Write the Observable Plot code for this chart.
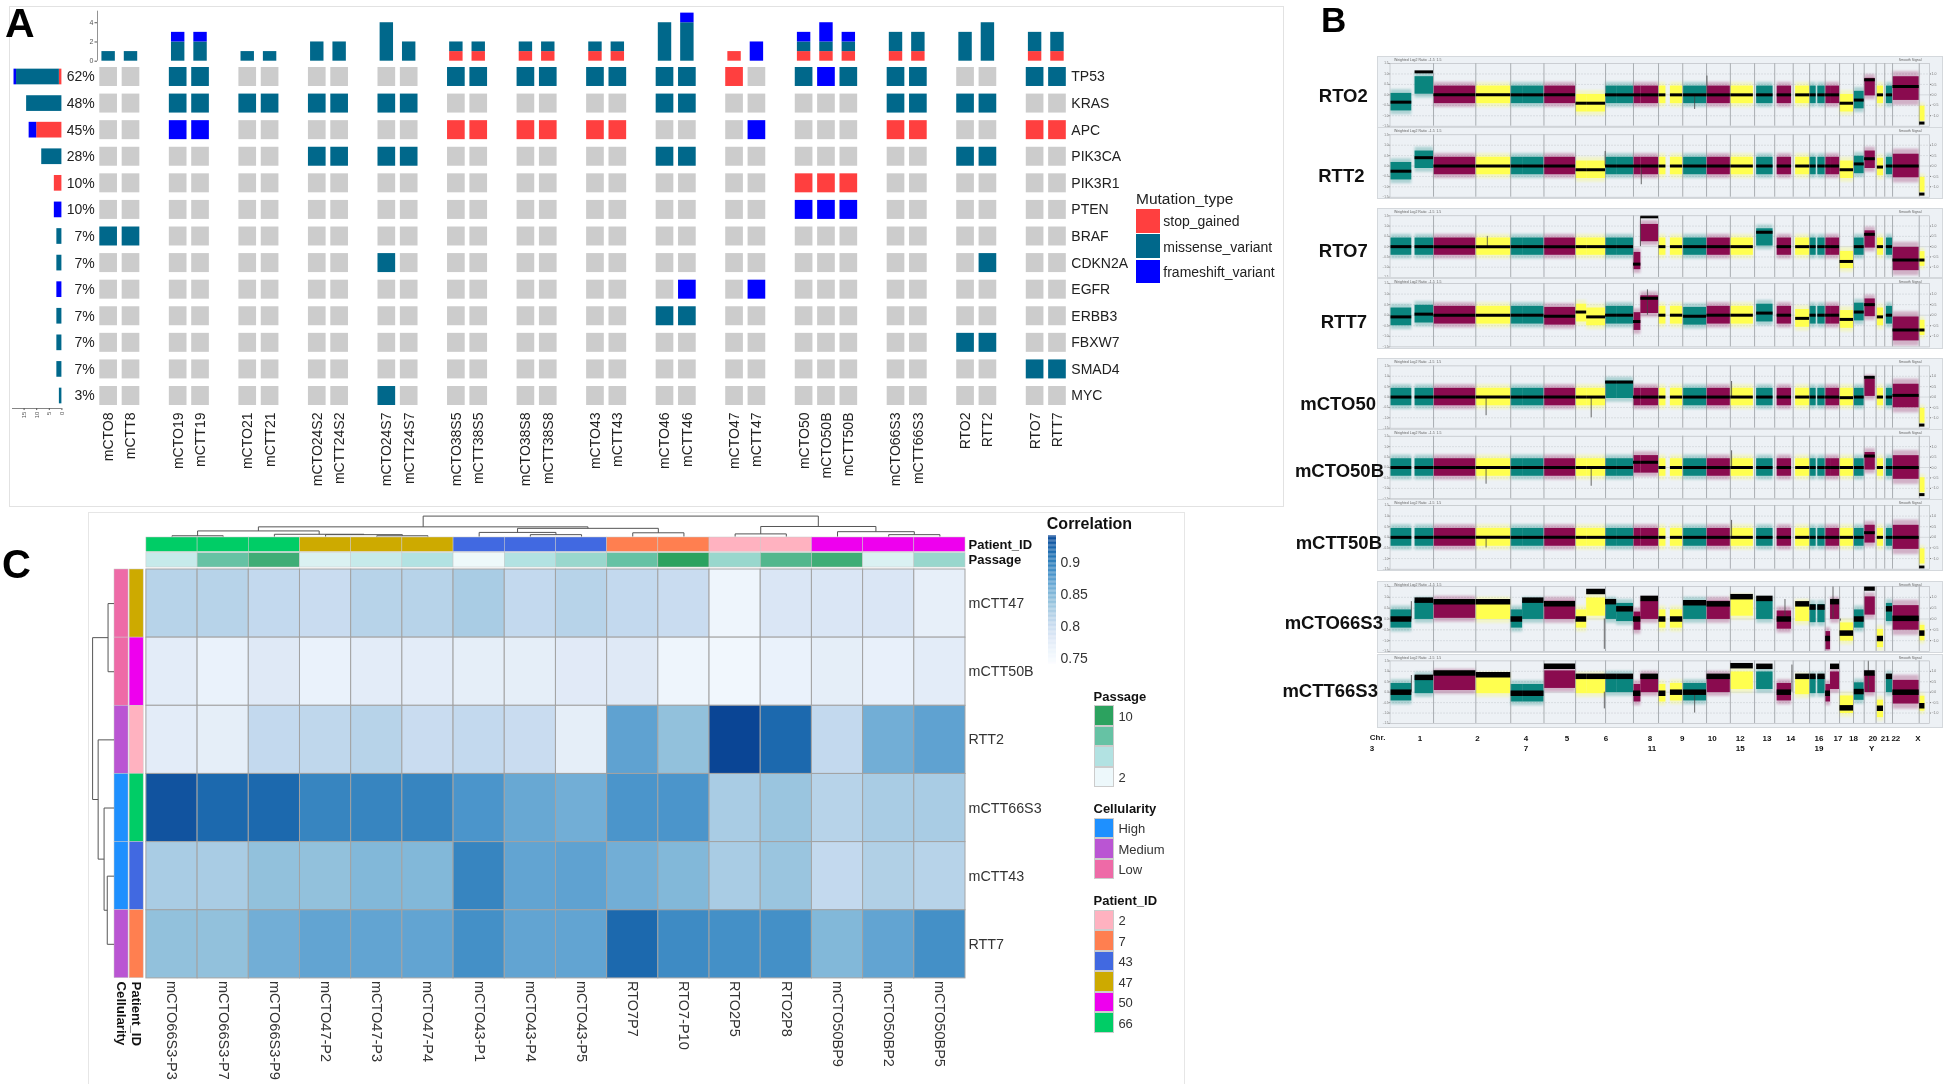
<!DOCTYPE html>
<html>
<head>
<meta charset="utf-8">
<script src="https://cdn.jsdelivr.net/npm/d3@7"></script>
<script src="https://cdn.jsdelivr.net/npm/@observablehq/plot@0.6"></script>
<style>
html,body{margin:0;padding:0;background:#fff;}
#root{position:relative;width:1944px;height:1084px;overflow:hidden;font-family:"Liberation Sans",Arial,sans-serif;filter:blur(0.35px);}
#root svg{overflow:visible;max-width:none;}
</style>
</head>
<body>
<div id="root"></div>
<script>
/* ---------- Panel A data ---------- */
const groupedSamples = [["mCTO8","mCTT8"],["mCTO19","mCTT19"],["mCTO21","mCTT21"],["mCTO24S2","mCTT24S2"],["mCTO24S7","mCTT24S7"],["mCTO38S5","mCTT38S5"],["mCTO38S8","mCTT38S8"],["mCTO43","mCTT43"],["mCTO46","mCTT46"],["mCTO47","mCTT47"],["mCTO50","mCTO50B","mCTT50B"],["mCTO66S3","mCTT66S3"],["RTO2","RTT2"],["RTO7","RTT7"]];
const genes = ["TP53","KRAS","APC","PIK3CA","PIK3R1","PTEN","BRAF","CDKN2A","EGFR","ERBB3","FBXW7","SMAD4","MYC"];
const genePercent = ["62%","48%","45%","28%","10%","10%","7%","7%","7%","7%","7%","7%","3%"];
const TP53   = ".. mm .. .. .. mm mm mm mm s. mfm mm .. mm";
const KRAS   = ".. mm mm mm mm .. .. .. mm .. ... mm mm ..";
const APC    = ".. ff .. .. .. ss ss ss .. .f ... ss .. ss";
const PIK3CA = ".. .. .. mm mm .. .. .. mm .. ... .. mm ..";
const PIK3R1 = ".. .. .. .. .. .. .. .. .. .. sss .. .. ..";
const PTEN   = ".. .. .. .. .. .. .. .. .. .. fff .. .. ..";
const BRAF   = "mm .. .. .. .. .. .. .. .. .. ... .. .. ..";
const CDKN2A = ".. .. .. .. m. .. .. .. .. .. ... .. .m ..";
const EGFR   = ".. .. .. .. .. .. .. .. .f .f ... .. .. ..";
const ERBB3  = ".. .. .. .. .. .. .. .. mm .. ... .. .. ..";
const FBXW7  = ".. .. .. .. .. .. .. .. .. .. ... .. mm ..";
const SMAD4  = ".. .. .. .. .. .. .. .. .. .. ... .. .. mm";
const MYC    = ".. .. .. .. m. .. .. .. .. .. ... .. .. ..";
const geneRows = [TP53,KRAS,APC,PIK3CA,PIK3R1,PTEN,BRAF,CDKN2A,EGFR,ERBB3,FBXW7,SMAD4,MYC];
const extraHits = [{sample:"mCTO50B",gene:"TP53",type:"m"}];
const mutationNames = ["stop_gained","missense_variant","frameshift_variant"];
const mutationCodes = ["s","m","f"];
const mutationColors = ["#ff3f3f","#00688b","#0000ff"];
const emptyColor = "#cccccc";

/* ---------- Panel B data (positions are read along the genome strip) ---------- */
const segStart = [220,279,325,428,513,541,594,671,697,743,770,811,829,873,901,933,990,1048,1111,1161,1206,1241,1260,1279,1291,1314,1349,1374,1405,1427,1443,1508];
const segEnd   = [271,324,427,512,541,593,670,697,743,770,811,829,872,890,931,989,1047,1103,1151,1196,1240,1256,1278,1291,1313,1347,1373,1400,1420,1442,1507,1521];
const segKind  = "ttmyttmyyttmmyytmytmyttmmytmytmy";
const segSpread= [1,1,1,1,1,1,1,1,1,1,1,1,1,1,1,1,1,1,1,1,1,1,1,1,1,1,1,1,1,1,1.35,.85];
const chromLines=[324,427,512,593,670,743,811,872,931,989,1047,1106,1155,1200,1240,1278,1313,1347,1373,1402,1423,1442,1507];
const RTO2_level=[-.35,1.1,0,0,0,0,0,-.4,-.4,0,0,0,0,0,0,0,0,0,0,0,0,0,0,0,0,-.4,-.25,.72,0,0,.4,-1.35];
const RTO2_band =[-.35,.45,0,0,0,0,0,-.4,-.4,0,0,0,0,0,0,0,0,0,0,0,0,0,0,0,0,-.4,-.25,.37,0,0,.3,-.9];
const RTT2_level=[-.25,.4,0,0,0,0,0,-.18,-.18,0,0,0,0,0,0,0,0,0,0,0,0,0,0,0,0,-.18,.1,.35,-.05,0,0,-1.35];
const RTT2_band =[-.25,.3,0,0,0,0,0,-.18,-.18,0,0,0,0,0,0,0,0,0,0,0,0,0,0,0,0,-.18,.05,.3,-.05,0,0,-.9];
const RTO7_level=[0,0,0,0,0,0,0,0,0,0,0,-.85,1.45,0,0,0,0,0,.7,0,0,0,0,0,0,-.72,0,.6,0,0,-.65,-.65];
const RTO7_band =[0,0,0,0,0,0,0,0,0,0,0,-.7,.66,0,0,0,0,0,.45,0,0,0,0,0,0,-.65,0,.35,0,0,-.6,-.6];
const RTT7_level=[-.08,.05,0,0,0,0,-.05,.15,-.08,0,0,-.3,.8,0,0,-.05,0,0,.1,0,-.15,0,0,0,0,-.2,.15,.5,-.08,0,-.7,-.7];
const RTT7_band =[-.08,.05,0,0,0,0,-.05,.1,-.08,0,0,-.3,.5,0,0,-.05,0,0,.1,0,-.15,0,0,0,0,-.2,.15,.35,-.08,0,-.65,-.6];
const mCTO50_level=[0,0,0,0,0,0,0,0,0,.72,.72,0,0,0,0,0,0,0,0,0,0,0,0,0,0,-.03,0,.95,0,0,.08,-1.35];
const mCTO50_band =[0,0,0,0,0,0,0,0,0,.35,.35,0,0,0,0,0,0,0,0,0,0,0,0,0,0,0,0,.45,0,0,.05,-.9];
const mCTO50B_level=[0,0,0,0,0,0,0,0,0,0,0,.25,.25,0,0,0,0,0,0,0,0,0,0,0,0,0,0,.55,0,0,0,-1.3];
const mCTO50B_band =[0,0,0,0,0,0,0,0,0,0,0,.15,.15,0,0,0,0,0,0,0,0,0,0,0,0,0,0,.3,0,0,0,-.85];
const mCTT50B_level=[0,0,0,0,0,0,0,0,0,0,0,0,0,0,0,0,0,0,0,0,0,0,0,0,0,0,0,.22,0,0,0,-1.4];
const mCTT50B_band =[0,0,0,0,0,0,0,0,0,0,0,0,0,0,0,0,0,0,0,0,0,0,0,0,0,0,0,.15,0,0,0,-.9];
const mCTO66S3_level=[0,.87,.8,.8,0,.87,.7,0,1.27,.8,.47,0,.95,0,0,.75,.7,1.03,.95,0,.7,.55,.55,-.9,.8,-.65,0,1.43,-.9,.47,.03,-.65];
const mCTO66S3_band =[0,.4,.45,.4,0,.4,.4,0,.55,.4,.3,-.1,.4,0,0,.4,.4,.55,.4,-.05,.3,.25,.25,-1,.4,-.6,0,.6,-.9,.3,.05,-.65];
const mCTT66S3_level=[0,.71,.92,.84,-.05,-.05,1.24,.76,.76,.76,.76,-.05,.76,-.05,0,0,.76,1.27,1.24,0,.76,.76,.76,-.05,1.24,-.75,.03,.92,-.77,.76,0,-.65];
const mCTT66S3_band =[0,.35,.5,.35,-.05,-.05,.6,.35,.35,.4,.4,-.05,.4,-.05,0,0,.4,.55,.55,0,.3,.35,.35,-.05,.55,-.6,.03,.4,-.8,.4,0,-.55];
const cnSamples=["RTO2","RTT2","RTO7","RTT7","mCTO50","mCTO50B","mCTT50B","mCTO66S3","mCTT66S3"];
const cnLevels=[RTO2_level,RTT2_level,RTO7_level,RTT7_level,mCTO50_level,mCTO50B_level,mCTT50B_level,mCTO66S3_level,mCTT66S3_level];
const cnBands=[RTO2_band,RTT2_band,RTO7_band,RTT7_band,mCTO50_band,mCTO50B_band,mCTT50B_band,mCTO66S3_band,mCTT66S3_band];
const cnSpikes=[[[960,-.7],[990,.9]],[[742,.7],[830,-.9]],[[828,1.45],[455,.5]],[[845,1.2]],[[452,-.9],[708,-1.0],[1050,.75]],[[452,-.8],[708,-.9],[1050,.8]],[[452,-.5],[1050,.8]],[[270,.8],[740,-1.4],[1180,.9],[1297,1.5],[1315,-.1]],[[270,.8],[740,-.8],[960,-1],[1197,1.3],[1383,1.5]]];
const chromRow1=["1","2","4","5","6","8","9","10","12","13","14","16","17","18","20","21","22","X"];
const chromRow1At=[291,431,549,649,744,851,930,1003,1071,1136,1194,1263,1309,1347,1394,1424,1450,1504];
const chromRow2=["3","7","11","15","19","Y"];
const chromRow2At=[174,549,856,1071,1263,1391];

/* ---------- Panel C data ---------- */
const heatColumns=["mCTO66S3-P3","mCTO66S3-P7","mCTO66S3-P9","mCTO47-P2","mCTO47-P3","mCTO47-P4","mCTO43-P1","mCTO43-P4","mCTO43-P5","RTO7P7","RTO7-P10","RTO2P5","RTO2P8","mCTO50BP9","mCTO50BP2","mCTO50BP5"];
const heatRows=["mCTT47","mCTT50B","RTT2","mCTT66S3","mCTT43","RTT7"];
const corrTT47=[.815,.815,.805,.80,.815,.815,.825,.805,.815,.805,.80,.76,.785,.785,.785,.77];
const corrTT50B=[.775,.765,.78,.765,.775,.775,.772,.772,.778,.78,.76,.755,.765,.772,.768,.775];
const corrRTT2=[.775,.772,.805,.808,.815,.80,.805,.80,.772,.87,.84,.945,.92,.805,.86,.87];
const corrTT66=[.935,.92,.92,.895,.895,.895,.88,.865,.86,.88,.88,.825,.835,.815,.825,.825];
const corrTT43=[.825,.825,.84,.84,.85,.85,.895,.868,.87,.86,.85,.825,.835,.805,.82,.815];
const corrRTT7=[.84,.84,.86,.868,.868,.868,.885,.868,.868,.92,.89,.885,.885,.85,.868,.885];
const heatValues=[corrTT47,corrTT50B,corrRTT2,corrTT66,corrTT43,corrRTT7];
const corrStops=[.74,.76,.78,.80,.82,.84,.86,.88,.90,.92,.945];
const corrColors=["#fbfdff","#eef5fc","#dfe9f6","#c9dcf0","#b1d0e6","#92c1dc","#72aed6","#4b95cb","#3080bc","#1c69ae","#0a4595"];
const colPatient=[66,66,66,47,47,47,43,43,43,7,7,2,2,50,50,50];
const colPassage=[3,7,9,2,3,4,1,4,5,7,10,5,8,9,2,5];
const rowPatient=[47,50,2,66,43,7];
const rowCellularity=["Low","Low","Medium","High","High","Medium"];
const patientIds=[2,7,43,47,50,66];
const patientColors=["#ffb2c0","#ff7f50","#4169e1","#cdaa00","#ee00ee","#00cd66"];
const cellLevels=["High","Medium","Low"];
const cellColors=["#1e90ff","#ba55d3","#ee6aa7"];
const passageStops=[1,4,7,10];
const passageColors=["#eef9fa","#b2e2e2","#66c2a4","#2ca25f"];
const passageSwatches=["#2ca25f","#66c2a4","#b2e2e2","#edf8fb"];
const passageSwatchLabels=["10","","","2"];
/* dendrograms: negative = leaf (1-based), positive = earlier merge (1-based) */
const colMergeA=[-1,-5,-4,-3,1,-8,-7,-10,7,5,-12,-15,-14,11,10];
const colMergeB=[-2,-6,2,3,4,-9,6,-11,8,9,-13,-16,12,13,14];
const colMergeHeight=[2,2,5,6,15,5,11,10,22,26,7,5,13,27,55];
const rowMergeA=[-1,-5,-4,-3,1];
const rowMergeB=[-2,-6,2,3,4];
const rowMergeHeight=[15,17,25,40,54];

/* ---------- helpers ---------- */
const root=document.getElementById("root");
const FONT='"Liberation Sans",Arial,sans-serif';
const baseStyle={fontFamily:FONT,background:"transparent",overflow:"visible"};
function place(node,left,top){node.style.position="absolute";node.style.left=left+"px";node.style.top=top+"px";root.append(node);return node;}
function note(text,left,midY,o={}){
  const s=document.createElement("div");
  s.textContent=text;
  const a=o.anchor||"start";
  const tx=a==="end"?"-100%":a==="middle"?"-50%":"0";
  s.style.cssText=`white-space:nowrap;line-height:${o.lh||1};font-size:${o.size||14}px;font-weight:${o.bold?"bold":"normal"};color:${o.color||"#222"};transform:translate(${tx},-50%)`;
  return place(s,left,midY);
}
function box(left,top,w,h,css){const d=document.createElement("div");d.style.cssText=`width:${w}px;height:${h}px;box-sizing:border-box;${css}`;return place(d,left,top);}
function dendro(a,b,h){
  const pos=[],out=[];
  const at=i=>i<0?{p:-i-.5,h:0}:{p:pos[i-1],h:h[i-1]};
  a.forEach((_,k)=>{const A=at(a[k]),B=at(b[k]);
    out.push({p1:A.p,h1:A.h,p2:A.p,h2:h[k]},{p1:A.p,h1:h[k],p2:B.p,h2:h[k]},{p1:B.p,h1:h[k],p2:B.p,h2:B.h});
    pos.push((A.p+B.p)/2);});
  return out;
}

/* ---------- Panel A ---------- */
box(9,6,1275,501,"border:1.5px solid #e2e2e2");
note("A",5,23.5,{size:41,bold:true,color:"#000",lh:1.12});
const GAP=1.11, CELL=.79;
const samples=[];
let cursor=0;
groupedSamples.forEach(g=>{g.forEach(n=>{samples.push({name:n,p:cursor});cursor+=1;});cursor+=GAP;});
const xEnd=samples[samples.length-1].p+CELL;
const cells=[];
const hits=[];
genes.forEach((g,gi)=>{
  const codes=geneRows[gi].replace(/ /g,"");
  samples.forEach((s,si)=>{
    const c=codes[si];
    cells.push({gene:g,x1:s.p,x2:s.p+CELL,fill:c==="."?emptyColor:mutationColors[mutationCodes.indexOf(c)]});
    if(c!==".")hits.push({sample:s.name,gene:g,type:c});
  });
});
extraHits.forEach(h=>hits.push(h));
const topStack=[];
samples.forEach(s=>{let y=0;mutationCodes.forEach((c,i)=>{
  const n=hits.filter(h=>h.sample===s.name&&h.type===c).length;
  if(n){topStack.push({x1:s.p+.095,x2:s.p+CELL-.095,y1:y,y2:y+n,fill:mutationColors[i]});y+=n;}
});});
const leftStack=[];
genes.forEach(g=>{let x=0;mutationCodes.forEach((c,i)=>{
  const n=hits.filter(h=>h.gene===g&&h.type===c).length;
  if(n){leftStack.push({gene:g,x1:x,x2:x+n,fill:mutationColors[i]});x+=n;}
});});
place(Plot.plot({width:1290,height:510,marginTop:67,marginBottom:105,marginLeft:99.3,marginRight:224.2,style:baseStyle,
  x:{domain:[0,xEnd],axis:null},
  y:{domain:genes,paddingInner:.286,paddingOuter:0,round:false,axis:null},
  marks:[
    Plot.barX(cells,{x1:"x1",x2:"x2",y:"gene",fill:"fill"}),
    Plot.axisY({anchor:"left",tickSize:0,tickPadding:5,fontSize:14,color:"#222",tickFormat:g=>genePercent[genes.indexOf(g)],label:null}),
    Plot.axisY({anchor:"right",tickSize:0,tickPadding:5,fontSize:14,color:"#222",label:null}),
    Plot.text(samples,{x:d=>d.p+CELL/2,y:()=>"MYC",dy:16.5,rotate:-90,textAnchor:"end",text:"name",fontSize:14,fill:"#222"})
  ]}),0,0);
place(Plot.plot({width:1290,height:70,marginTop:10.7,marginBottom:9.3,marginLeft:97,marginRight:224.2,style:baseStyle,
  x:{domain:[-.103,xEnd],axis:null},
  y:{domain:[0,5.2],axis:null},
  marks:[
    Plot.rect(topStack,{x1:"x1",x2:"x2",y1:"y1",y2:"y2",fill:"fill"}),
    Plot.ruleX([-.103],{stroke:"#777",strokeWidth:.8}),
    Plot.axisY({anchor:"left",ticks:[0,2,4],tickFormat:String,tickSize:2.5,tickPadding:1.5,fontSize:7,color:"#555",label:null})
  ]}),0,0);
place(Plot.plot({width:66,height:430,marginTop:68.65,marginBottom:26.65,marginLeft:11,marginRight:4.6,style:baseStyle,
  x:{domain:[20,0],axis:null},
  y:{domain:genes,paddingInner:.41,paddingOuter:0,round:false,axis:null},
  marks:[
    Plot.barX(leftStack,{x1:"x1",x2:"x2",y:"gene",fill:"fill"}),
    Plot.ruleY(["MYC"],{x1:0,x2:19.6,dy:12.5,stroke:"#666",strokeWidth:.8}),
    Plot.axisX({anchor:"bottom",ticks:[0,5,10,15],tickFormat:String,tickSize:2,tickPadding:1,fontSize:6,tickRotate:-90,color:"#555",dy:4.7,label:null})
  ]}),0,0);
note("Mutation_type",1136,199,{size:15.5});
mutationNames.forEach((n,i)=>{
  box(1136,[209,234.4,259.6][i],24.4,23.6,`background:${mutationColors[i]}`);
  note(n,1163.3,[221,246.7,271.7][i],{size:14});
});

/* ---------- Panel B ---------- */
note("B",1321,20,{size:35,bold:true,color:"#000",lh:1.12});
const cnFrames=[[57,127,63,125.7],[128,198,134.3,196.7],[208.7,277.5,215,276.7],[279.3,348.3,283.3,346.7],[359.3,429,365.7,428],[430,499,435.7,498.3],[500.3,570.5,505.3,569],[581.7,651.7,585.7,650.7],[655.3,727,660.7,723.3]];
const cnLineWidth=[3,3,3,3,3,3,3,5.5,5.5];
const cnLabelRight=[1367.8,1364.5,1367.8,1367,1376,1384,1382,1383,1378];
const cnLabelY=[95.7,175.7,250.7,321.7,404,470.7,543,622.5,690.7];
const segFill={t:"#0a857e",m:"#8a0b4f",y:"#ffff4f"};
cnSamples.forEach((name,k)=>{
  const [ft,fb,it,ib]=cnFrames[k];
  const rows=segStart.map((s,i)=>({x1:s,x2:segEnd[i],level:cnLevels[k][i],mid:cnBands[k][i],fill:segFill[segKind[i]],spread:segSpread[i]}));
  const spikes=cnSpikes[k].map(([x,v])=>({x,v}));
  place(Plot.plot({width:563.5,height:fb-ft,marginLeft:11.5,marginRight:12.5,marginTop:it-ft,marginBottom:fb-ib,
    style:{...baseStyle,background:"#edf1f5",outline:"0.7px solid #d4d8dc"},
    x:{domain:[218,1532],axis:null},y:{domain:[-1.5,1.5],axis:null},
    marks:[
      Plot.ruleY([-1,-.5,.5,1],{stroke:"#9aa0a6",strokeWidth:.5,strokeDasharray:"1,2"}),
      Plot.ruleY([0],{stroke:"#c5c9cd",strokeWidth:.6}),
      Plot.rect(rows,{x1:"x1",x2:"x2",y1:d=>d.mid-.6*d.spread,y2:d=>d.mid+.6*d.spread,fill:"fill",fillOpacity:.28,clip:true,imageFilter:"blur(1px)"}),
      Plot.rect(rows,{x1:"x1",x2:"x2",y1:d=>d.mid-.42*d.spread,y2:d=>d.mid+.42*d.spread,fill:"fill",clip:true,imageFilter:"blur(.7px)"}),
      Plot.ruleX(chromLines,{stroke:"#8d9195",strokeWidth:.7}),
      Plot.ruleX(spikes,{x:"x",y1:0,y2:"v",stroke:"#444",strokeWidth:.8,clip:true}),
      Plot.ruleY(rows,{x1:"x1",x2:"x2",y:"level",stroke:"#000",strokeWidth:cnLineWidth[k],clip:true,imageFilter:"blur(.4px)"}),
      Plot.frame({stroke:"#b4b8bc",strokeWidth:.6}),
      Plot.axisY({anchor:"left",ticks:[-1.5,-1,-.5,0,.5,1,1.5],tickSize:1,tickPadding:.5,fontSize:3,color:"#777",label:null}),
      Plot.axisY({anchor:"right",ticks:[-1,-.5,0,.5,1],tickSize:1,tickPadding:1,fontSize:3.5,color:"#777",label:null}),
      Plot.text(["Weighted Log2 Ratio  -1.5  1.5"],{frameAnchor:"top-left",dx:4,dy:-(it-ft)+1,fontSize:3.5,fill:"#666",textAnchor:"start",lineAnchor:"top"}),
      Plot.text(["Smooth Signal"],{frameAnchor:"top-right",dx:-8,dy:-(it-ft)+1,fontSize:3.5,fill:"#666",textAnchor:"end",lineAnchor:"top"})
    ]}),1378,ft);
  note(name,cnLabelRight[k],cnLabelY[k],{size:18.5,bold:true,anchor:"end",color:"#111",lh:.8});
});
note("Chr.",1369.8,738,{size:8,bold:true});
place(Plot.plot({width:563.5,height:30,margin:0,marginLeft:11.5,marginRight:12.5,style:baseStyle,
  x:{domain:[218,1532],axis:null},y:{domain:[0,30],reverse:true,axis:null},
  marks:[
    Plot.text(chromRow1,{x:(d,i)=>chromRow1At[i],y:()=>8,fontSize:8,fontWeight:"bold",fill:"#111"}),
    Plot.text(chromRow2,{x:(d,i)=>chromRow2At[i],y:()=>18,fontSize:8,fontWeight:"bold",fill:"#111"})
  ]}),1378,730);

/* ---------- Panel C ---------- */
box(87.5,512,1097,600,"border:1.3px solid #e6e6e6");
note("C",2,563.5,{size:40,bold:true,color:"#000",lh:.8});
const heatColor={type:"linear",domain:corrStops,range:corrColors};
const heat=[];
heatRows.forEach((r,i)=>heatColumns.forEach((c,j)=>heat.push({row:r,col:c,value:heatValues[i][j]})));
place(Plot.plot({width:1200,height:520,marginLeft:145.9,marginRight:235,marginTop:0,marginBottom:111.1,style:baseStyle,
  x:{domain:heatColumns,padding:0,round:false,axis:null},
  y:{domain:heatRows,padding:0,round:false,axis:null},
  color:heatColor,
  marks:[
    Plot.cell(heat,{x:"col",y:"row",fill:"value",stroke:"#a3a3a3",strokeWidth:1}),
    Plot.axisY({anchor:"right",tickSize:0,tickPadding:3,fontSize:14.3,color:"#333",label:null}),
    Plot.text(heatColumns,{x:d=>d,y:()=>"RTT7",dy:36.6,rotate:90,textAnchor:"start",fontSize:14.5,fill:"#333"})
  ]}),0,568.9);
/* column annotations */
const passageColor=d3.scaleLinear().domain(passageStops).range(passageColors);
const colAnn=[];
heatColumns.forEach((c,i)=>{
  colAnn.push({track:"Patient_ID",col:c,fill:patientColors[patientIds.indexOf(colPatient[i])]});
  colAnn.push({track:"Passage",col:c,fill:passageColor(colPassage[i])});
});
place(Plot.plot({width:1100,height:30,marginLeft:145.9,marginRight:135,marginTop:0,marginBottom:0,style:baseStyle,
  x:{domain:heatColumns,padding:0,round:false,axis:null},
  y:{domain:["Patient_ID","Passage"],paddingInner:.08,paddingOuter:0,round:false,axis:null},
  marks:[
    Plot.cell(colAnn,{x:"col",y:"track",fill:"fill",stroke:"#c8c8c8",strokeWidth:.5}),
    Plot.axisY({anchor:"right",tickSize:0,tickPadding:3,fontSize:13,fontWeight:"bold",color:"#111",label:null})
  ]}),0,537);
/* row annotations */
const rowAnn=[];
heatRows.forEach((r,i)=>{
  rowAnn.push({track:"Cellularity",row:r,fill:cellColors[cellLevels.indexOf(rowCellularity[i])]});
  rowAnn.push({track:"Patient_ID",row:r,fill:patientColors[patientIds.indexOf(rowPatient[i])]});
});
place(Plot.plot({width:29.2,height:520,margin:0,marginBottom:111.1,style:baseStyle,
  x:{domain:["Cellularity","Patient_ID"],paddingInner:.07,paddingOuter:0,round:false,axis:null},
  y:{domain:heatRows,padding:0,round:false,axis:null},
  marks:[
    Plot.cell(rowAnn,{x:"track",y:"row",fill:"fill",stroke:"#c8c8c8",strokeWidth:.5}),
    Plot.text(["Cellularity","Patient_ID"],{x:d=>d,y:()=>"RTT7",dy:37.4,rotate:90,textAnchor:"start",fontSize:13.2,fontWeight:"bold",fill:"#111"})
  ]}),113.9,568.9);
/* dendrograms */
place(Plot.plot({width:965,height:26,marginLeft:145.9,marginRight:0,marginTop:5.6,marginBottom:0,style:baseStyle,
  x:{domain:[0,16],axis:null},y:{domain:[0,55],axis:null},
  marks:[Plot.link(dendro(colMergeA,colMergeB,colMergeHeight),{x1:"p1",y1:"h1",x2:"p2",y2:"h2",stroke:"#555",strokeWidth:1})]}),0,510);
place(Plot.plot({width:23.5,height:408.9,margin:0,marginLeft:2.1,style:baseStyle,
  x:{domain:[54,0],axis:null},y:{domain:[0,6],reverse:true,axis:null},
  marks:[Plot.link(dendro(rowMergeA,rowMergeB,rowMergeHeight),{x1:"h1",y1:"p1",x2:"h2",y2:"p2",stroke:"#555",strokeWidth:1})]}),90,568.9);
/* colour bar */
note("Correlation",1046.8,523.8,{size:16,bold:true,color:"#111"});
place(Plot.plot({width:60,height:127.5,marginLeft:0,marginRight:52,marginTop:0,marginBottom:0,style:baseStyle,
  x:{domain:[0,1],axis:null},y:{domain:[.742,.941],axis:null},color:heatColor,
  marks:[
    Plot.rect(d3.range(.742,.941,.002),{x1:()=>0,x2:()=>1,y1:d=>d,y2:d=>d+.002,fill:d=>d}),
    Plot.axisY({anchor:"right",ticks:[.75,.8,.85,.9],tickFormat:String,tickSize:0,tickPadding:4,fontSize:14,color:"#333",label:null})
  ]}),1048,536.3);
/* discrete legends */
function legend(title,titleY,firstTop,colors,labels){
  note(title,1093.5,titleY,{size:13,bold:true,color:"#111"});
  colors.forEach((c,i)=>{
    box(1093.5,firstTop+i*20.47,20.5,20.47,`background:${c};border:0.5px solid #ccc`);
    if(labels[i])note(labels[i],1118.4,firstTop+i*20.47+10.5,{size:13,color:"#333"});
  });
}
legend("Passage",696,705.2,passageSwatches,passageSwatchLabels);
legend("Cellularity",808.4,817.7,cellColors,cellLevels);
legend("Patient_ID",900.4,909.7,patientColors,patientIds.map(String));
</script>
</body>
</html>
